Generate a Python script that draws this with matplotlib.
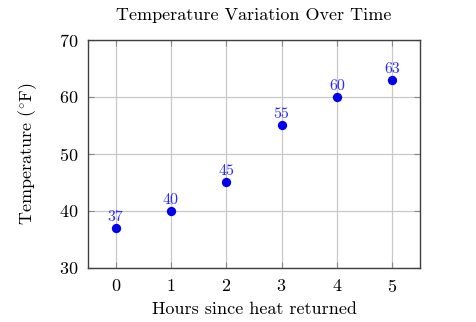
import matplotlib
matplotlib.use("Agg")
import matplotlib.pyplot as plt

plt.rcParams["font.family"] = "serif"
plt.rcParams["font.serif"] = ["cmr10"]
plt.rcParams["mathtext.fontset"] = "cm"
plt.rcParams["axes.formatter.use_mathtext"] = True

hours = [0, 1, 2, 3, 4, 5]
temps = [37, 40, 45, 55, 60, 63]
x_ticks = [0, 1, 2, 3, 4, 5]
y_ticks = [30, 40, 50, 60, 70]

fig = plt.figure(figsize=(4.76, 3.22), dpi=100)
ax = fig.add_axes([0.185, 0.168, 0.697, 0.708])

ax.scatter(hours, temps, s=45, color="#0000ee", zorder=3, linewidths=0)
for h, t in zip(hours, temps):
    ax.annotate(f"{t}", (h, t), xytext=(0, 3), textcoords="offset points",
                ha="center", va="bottom", color="#2b2bff", fontsize=11.5)

ax.set_xlim(-0.5, 5.5)
ax.set_ylim(30, 70)
ax.set_xticks(x_ticks)
ax.set_yticks(y_ticks)
ax.grid(True, color="#c8c8c8", linewidth=0.9)
ax.set_axisbelow(True)
ax.tick_params(direction="in", length=4, width=0.8, color="#888888",
               top=True, right=True, labelsize=13, pad=7)
for sp in ax.spines.values():
    sp.set_color("#404040")
    sp.set_linewidth(1.0)

ax.set_title("Temperature Variation Over Time", fontsize=13, pad=14)
ax.set_xlabel("Hours since heat returned", fontsize=13, labelpad=5)
ax.set_ylabel(r"Temperature ($^{\circ}$F)", fontsize=13, labelpad=14)

fig.savefig("out.png", dpi=100)
